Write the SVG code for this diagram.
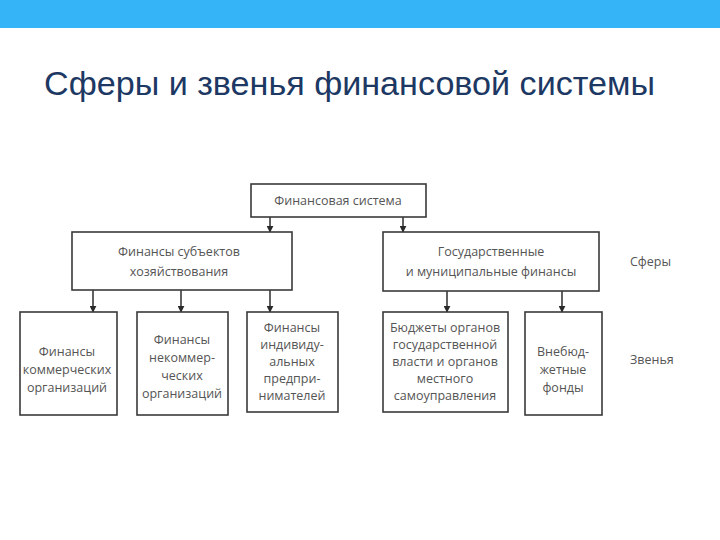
<svg xmlns="http://www.w3.org/2000/svg" width="720" height="540" viewBox="0 0 720 540">
<defs>
<style>
.box{fill:#fff;stroke:#3a3a3a;stroke-width:1.6}
.t{font-family:"Open Sans","Noto Sans",sans-serif;font-size:12.5px;fill:#555;text-anchor:middle}
.lbl{font-family:"Open Sans","Noto Sans",sans-serif;font-size:12.5px;fill:#555}
.c{stroke:#3a3a3a;stroke-width:1.6;fill:none}
</style>
<marker id="ah" viewBox="0 0 10 10" refX="9" refY="5" markerWidth="7" markerHeight="7" orient="auto" markerUnits="userSpaceOnUse">
<path d="M0,0 L10,5 L0,10 z" fill="#2a2a2a"/>
</marker>
</defs>
<rect x="0" y="0" width="720" height="28" fill="#35b5f7"/>
<text x="44" y="95" font-family="'Liberation Sans',Arial,sans-serif" font-size="34" fill="#1c3863" textLength="611" lengthAdjust="spacingAndGlyphs">Сферы и звенья финансовой системы</text>

<g id="connectors">
<line class="c" x1="270" y1="217" x2="270" y2="232" marker-end="url(#ah)"/>
<line class="c" x1="403" y1="217" x2="403" y2="232" marker-end="url(#ah)"/>
<line class="c" x1="93" y1="290" x2="93" y2="312" marker-end="url(#ah)"/>
<line class="c" x1="181" y1="290" x2="181" y2="312" marker-end="url(#ah)"/>
<line class="c" x1="270" y1="290" x2="270" y2="312" marker-end="url(#ah)"/>
<line class="c" x1="447" y1="291" x2="447" y2="312" marker-end="url(#ah)"/>
<line class="c" x1="562" y1="291" x2="562" y2="312" marker-end="url(#ah)"/>
</g>

<g id="fin-system">
<rect class="box" x="251" y="184" width="175" height="33"/>
<text class="t" x="338" y="205">Финансовая система</text>
</g>
<g id="fin-subjects">
<rect class="box" x="72" y="232" width="220" height="58"/>
<text class="t" x="179" y="256">Финансы субъектов</text>
<text class="t" x="179" y="276">хозяйствования</text>
</g>
<g id="gov-fin">
<rect class="box" x="383" y="232" width="216" height="59"/>
<text class="t" x="491" y="256">Государственные</text>
<text class="t" x="491" y="276">и муниципальные финансы</text>
</g>
<g id="commercial">
<rect class="box" x="20" y="312" width="97" height="103"/>
<text class="t" x="67" y="356">Финансы</text>
<text class="t" x="67" y="374">коммерческих</text>
<text class="t" x="67" y="392">организаций</text>
</g>
<g id="noncommercial">
<rect class="box" x="137" y="312" width="91" height="103"/>
<text class="t" x="182" y="344">Финансы</text>
<text class="t" x="182" y="362">некоммер-</text>
<text class="t" x="182" y="380">ческих</text>
<text class="t" x="182" y="398">организаций</text>
</g>
<g id="entrepreneurs">
<rect class="box" x="247" y="312" width="91" height="100"/>
<text class="t" x="292" y="332">Финансы</text>
<text class="t" x="292" y="349">индивиду-</text>
<text class="t" x="292" y="366">альных</text>
<text class="t" x="292" y="383">предпри-</text>
<text class="t" x="292" y="400">нимателей</text>
</g>
<g id="budgets">
<rect class="box" x="383" y="312" width="125" height="100"/>
<text class="t" x="445" y="332">Бюджеты органов</text>
<text class="t" x="445" y="349">государственной</text>
<text class="t" x="445" y="366">власти и органов</text>
<text class="t" x="445" y="383">местного</text>
<text class="t" x="445" y="400">самоуправления</text>
</g>
<g id="funds">
<rect class="box" x="525" y="312" width="77" height="103"/>
<text class="t" x="563" y="356">Внебюд-</text>
<text class="t" x="563" y="374">жетные</text>
<text class="t" x="563" y="392">фонды</text>
</g>
<g id="label-spheres">
<text class="lbl" x="630" y="266">Сферы</text>
</g>
<g id="label-links">
<text class="lbl" x="630" y="364">Звенья</text>
</g>
</svg>
